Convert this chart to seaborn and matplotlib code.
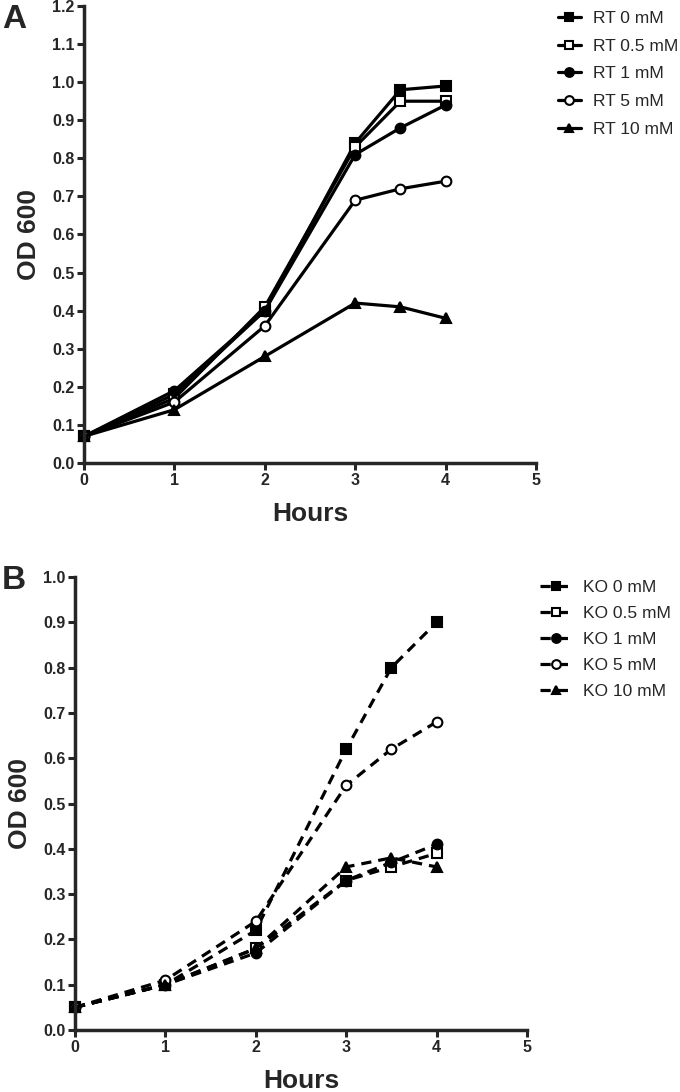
import numpy as np
import matplotlib
matplotlib.use("Agg")
import matplotlib.pyplot as plt
import pandas as pd
import seaborn as sns

sns.set_style("ticks")
plt.rcParams['font.family'] = ['Liberation Sans', 'DejaVu Sans']

# data
hours = [0, 1, 2, 3, 3.5, 4]

rt_labels = ["RT 0 mM", "RT 0.5 mM", "RT 1 mM", "RT 5 mM", "RT 10 mM"]
rt_0 = [0.07, 0.18, 0.40, 0.84, 0.98, 0.99]
rt_05 = [0.07, 0.17, 0.41, 0.83, 0.95, 0.95]
rt_1 = [0.07, 0.19, 0.40, 0.81, 0.88, 0.94]
rt_5 = [0.07, 0.16, 0.36, 0.69, 0.72, 0.74]
rt_10 = [0.07, 0.14, 0.28, 0.42, 0.41, 0.38]

ko_labels = ["KO 0 mM", "KO 0.5 mM", "KO 1 mM", "KO 5 mM", "KO 10 mM"]
ko_0 = [0.05, 0.10, 0.22, 0.62, 0.80, 0.90]
ko_05 = [0.05, 0.10, 0.18, 0.33, 0.36, 0.39]
ko_1 = [0.05, 0.10, 0.17, 0.33, 0.37, 0.41]
ko_5 = [0.05, 0.11, 0.24, 0.54, 0.62, 0.68]
ko_10 = [0.05, 0.10, 0.18, 0.36, 0.38, 0.36]

markers = ["s", "s", "o", "o", "^"]
faces = ["black", "white", "black", "white", "black"]


def build_df(labels, series):
    rows = []
    for lab, vals in zip(labels, series):
        for h, v in zip(hours, vals):
            rows.append({"Hours": h, "OD": v, "cond": lab})
    return pd.DataFrame(rows)


def draw_panel(ax, df, labels, ls, ymax):
    for lab, m, fc in zip(labels, markers, faces):
        sub = df[df["cond"] == lab]
        sns.lineplot(data=sub, x="Hours", y="OD", ax=ax, color="black",
                     marker=m, markerfacecolor=fc, markeredgecolor="black",
                     markeredgewidth=1.5, markersize=7, linewidth=2.3,
                     linestyle=ls, label=lab, errorbar=None)
    ax.set_xlim(0, 5)
    ax.set_ylim(0, ymax)
    ax.set_xticks(range(0, 6))
    yt = np.round(np.arange(0, ymax + 0.01, 0.1), 1)
    ax.set_yticks(yt)
    ax.set_yticklabels([f"{t:.1f}" for t in yt])
    ax.set_xlabel("Hours", fontsize=19, fontweight="bold", labelpad=10)
    ax.set_ylabel("OD 600", fontsize=19, fontweight="bold", labelpad=8)
    ax.tick_params(width=2.2, length=5, labelsize=11.5, pad=2)
    for t in ax.get_xticklabels() + ax.get_yticklabels():
        t.set_fontweight("bold")
    sns.despine(ax=ax)
    for s in ["left", "bottom"]:
        ax.spines[s].set_linewidth(2.5)
    for ln in ax.get_lines():
        ln.set_clip_on(False)
    ax.get_legend().remove()


fig = plt.figure(figsize=(6.8, 10.92), dpi=100)
W, H = 680, 1092

axA = fig.add_axes([84 / W, 1 - 463 / H, 452 / W, 457 / H])
axB = fig.add_axes([75 / W, 1 - 1030 / H, 452 / W, 453 / H])

dfA = build_df(rt_labels, [rt_0, rt_05, rt_1, rt_5, rt_10])
dfB = build_df(ko_labels, [ko_0, ko_05, ko_1, ko_5, ko_10])

draw_panel(axA, dfA, rt_labels, "-", 1.2)
draw_panel(axB, dfB, ko_labels, (0, (3.2, 2.2)), 1.0)

hA, lA = axA.get_legend_handles_labels()
fig.legend(hA, lA, loc="upper left", bbox_to_anchor=(558 / W, 1 - 11 / H),
           frameon=False, fontsize=12.5, handlelength=1.3, handletextpad=0.7,
           labelspacing=0.72, borderpad=0, borderaxespad=0, markerscale=0.9)
hB, lB = axB.get_legend_handles_labels()
fig.legend(hB, lB, loc="upper left", bbox_to_anchor=(540 / W, 1 - 580 / H),
           frameon=False, fontsize=12.5, handlelength=1.9, handletextpad=0.6,
           labelspacing=0.62, borderpad=0, borderaxespad=0, markerscale=0.9)

fig.text(2 / W, 1 - 4 / H, "A", fontsize=24, fontweight="bold", va="top")
fig.text(2 / W, 1 - 565 / H, "B", fontsize=24, fontweight="bold", va="top")

fig.savefig("out.png", dpi=100)
